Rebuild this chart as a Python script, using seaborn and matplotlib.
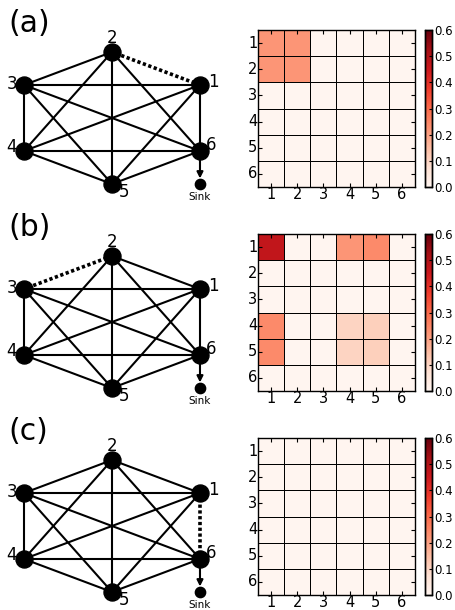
from itertools import combinations

import numpy as np
import pandas as pd

import seaborn as sns
import matplotlib.pyplot as plt

# data
panel_labels = ['(a)', '(b)', '(c)']
node_names = ['1', '2', '3', '4', '5', '6']
node_angles = [30, 90, 150, 210, 270, 330]  # hexagon layout, degrees
dotted_edges = [('1', '2'), ('2', '3'), ('1', '6')]

matrix_a = [
    [0.22, 0.22, 0.0, 0.0, 0.0, 0.0],
    [0.22, 0.22, 0.0, 0.0, 0.0, 0.0],
    [0.0, 0.0, 0.0, 0.0, 0.0, 0.0],
    [0.0, 0.0, 0.0, 0.0, 0.0, 0.0],
    [0.0, 0.0, 0.0, 0.0, 0.0, 0.0],
    [0.0, 0.0, 0.0, 0.0, 0.0, 0.0],
]
matrix_b = [
    [0.47, 0.0, 0.0, 0.22, 0.24, 0.0],
    [0.0, 0.0, 0.0, 0.0, 0.0, 0.0],
    [0.0, 0.0, 0.0, 0.0, 0.0, 0.0],
    [0.24, 0.0, 0.0, 0.10, 0.11, 0.0],
    [0.24, 0.0, 0.0, 0.10, 0.11, 0.0],
    [0.0, 0.0, 0.0, 0.0, 0.0, 0.0],
]
matrix_c = [
    [0.0, 0.0, 0.0, 0.0, 0.0, 0.0],
    [0.0, 0.0, 0.0, 0.0, 0.0, 0.0],
    [0.0, 0.0, 0.0, 0.0, 0.0, 0.0],
    [0.0, 0.0, 0.0, 0.0, 0.0, 0.0],
    [0.0, 0.0, 0.0, 0.0, 0.0, 0.0],
    [0.0, 0.0, 0.0, 0.0, 0.0, 0.0],
]
matrices = [matrix_a, matrix_b, matrix_c]
cbar_ticks = [0.0, 0.1, 0.2, 0.3, 0.4, 0.5, 0.6]

W, H = 456, 610
fig = plt.figure(figsize=(W / 100, H / 100), dpi=100)


def px_box(x0, y0, w, h):
    """Pixel box (top-left origin) -> figure fraction rect."""
    return [x0 / W, 1 - (y0 + h) / H, w / W, h / H]


# node label offsets (points)
label_offsets = {
    '1': (10, 2), '2': (0, 10), '3': (-9, 1), '4': (-9, 3),
    '5': (9, -6), '6': (8, 4),
}

pos = {n: (np.cos(np.radians(a)), np.sin(np.radians(a)))
       for n, a in zip(node_names, node_angles)}

for k, (plabel, dotted, mat) in enumerate(zip(panel_labels, dotted_edges, matrices)):
    top = 204 * k - 1

    # --- graph panel
    ax = fig.add_axes(px_box(0, top, 235, 204))
    ax.set_xlim(-112 / 101.6, 123 / 101.6)
    ax.set_ylim(-85 / 66, 119 / 66)
    ax.set_axis_off()

    for a, b in combinations(node_names, 2):
        (x1, y1), (x2, y2) = pos[a], pos[b]
        if {a, b} == set(dotted):
            ax.plot([x1, x2], [y1, y2], color='k', lw=2.6,
                    linestyle=(0, (0.9, 0.7)), zorder=1)
        else:
            ax.plot([x1, x2], [y1, y2], color='k', lw=1.5, zorder=1)

    xs = [pos[n][0] for n in node_names]
    ys = [pos[n][1] for n in node_names]
    ax.scatter(xs, ys, s=150, color='k', zorder=3)

    sink = (pos['6'][0], -1.0)
    ax.scatter([sink[0]], [sink[1]], s=55, color='k', zorder=3)
    ax.annotate('', xy=sink, xytext=pos['6'],
                arrowprops=dict(arrowstyle='-|>', color='k', lw=1.5,
                                shrinkA=0, shrinkB=4, mutation_scale=9))
    ax.annotate('Sink', sink, xytext=(0, -9.5), textcoords='offset points',
                ha='center', va='center', fontsize=7.5)

    for n in node_names:
        ax.annotate(n, pos[n], xytext=label_offsets[n],
                    textcoords='offset points', ha='center', va='center',
                    fontsize=12)

    ax.text(0.035, 0.88, plabel, transform=ax.transAxes, fontsize=21.5,
            ha='left', va='center')

    # --- heatmap panel
    hax = fig.add_axes(px_box(258, top + 31, 157, 157))
    cax = fig.add_axes(px_box(425, top + 31, 7.5, 157))
    df = pd.DataFrame(mat, index=node_names, columns=node_names)
    sns.heatmap(df, ax=hax, cbar_ax=cax, cmap='Reds', vmin=0, vmax=0.6,
                linewidths=0.6, linecolor='black', square=False,
                cbar_kws={'ticks': cbar_ticks})
    for sp in hax.spines.values():
        sp.set_visible(True)
        sp.set_color('black')
        sp.set_linewidth(1.0)
    hax.tick_params(direction='in', length=3, top=True, right=True,
                    labelsize=10.5, pad=0.5)
    hax.tick_params(axis='x', pad=0)
    hax.set_yticklabels(node_names, rotation=0)
    hax.set_xticklabels(node_names, rotation=0)
    hax.set_xlabel('')
    hax.set_ylabel('')

    cax.tick_params(direction='in', length=2, labelsize=8.5, pad=1)
    cax.set_yticklabels([f'{t:.1f}' for t in cbar_ticks])
    for sp in cax.spines.values():
        sp.set_visible(True)
        sp.set_color('black')
        sp.set_linewidth(1.0)

fig.savefig('out.png', dpi=100)
